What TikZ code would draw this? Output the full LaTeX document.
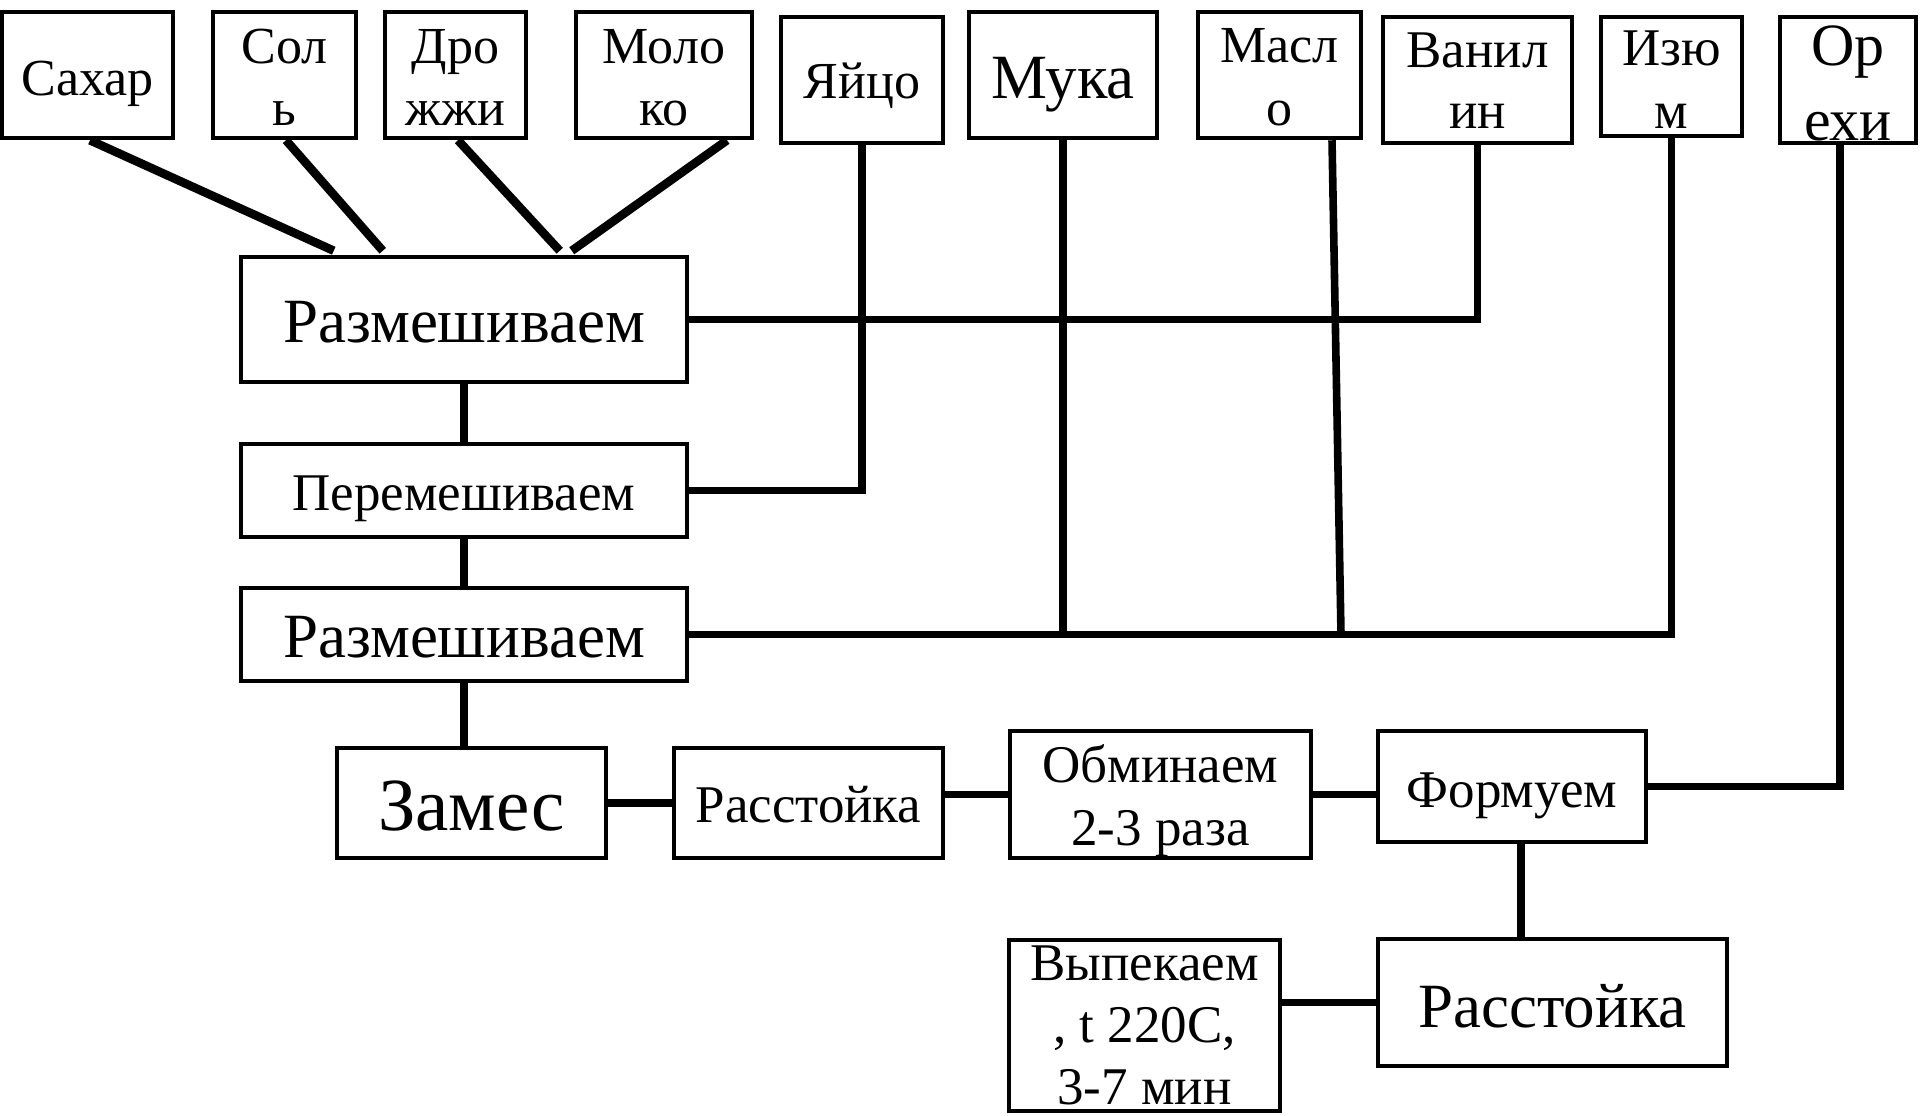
\documentclass[tikz,border=0pt]{standalone}
\usepackage{fontspec}
\setmainfont{Liberation Serif}
\usetikzlibrary{calc}
\newcommand{\tx}[4]{\raisebox{#1}[0pt][0pt]{\fontsize{#2}{#3}\selectfont\begin{tabular}[t]{@{}c@{}}#4\end{tabular}}}
\tikzset{
  box/.style={draw=black, line width=2.25pt, rectangle, inner sep=0pt, fill=white},
  conn/.style={draw=black, line width=3.8pt},
  diag/.style={draw=black, line width=4.3pt},
}
\begin{document}
\begin{tikzpicture}[x=0.5pt,y=-0.5pt]
\useasboundingbox (0,0) rectangle (1920,1115);
% top ingredient boxes
\node[box, minimum width=85.5pt, minimum height=63pt] (sugar) at (87.5,75) {\tx{-10pt}{26pt}{31pt}{Сахар}};
\node[box, minimum width=71.5pt, minimum height=63pt] (salt) at (284.5,75) {\tx{6pt}{26pt}{31pt}{Сол\\ь}};
\node[box, minimum width=70.5pt, minimum height=63pt] (yeast) at (455.5,75) {\tx{6pt}{26pt}{31pt}{Дро\\жжи}};
\node[box, minimum width=88pt, minimum height=63pt] (milk) at (664,75) {\tx{6pt}{26pt}{31pt}{Моло\\ко}};
\node[box, minimum width=81pt, minimum height=63pt] (egg) at (862,80) {\tx{-9pt}{26pt}{31pt}{Яйцо}};
\node[box, minimum width=94pt, minimum height=63pt] (flour) at (1063,75) {\tx{-11.5pt}{31.5pt}{36pt}{Мука}};
\node[box, minimum width=81.5pt, minimum height=63pt] (butter) at (1279.5,75) {\tx{6.5pt}{26pt}{31.5pt}{Масл\\о}};
\node[box, minimum width=94.5pt, minimum height=63pt] (vanilla) at (1477.5,80) {\tx{6.5pt}{26.5pt}{30.5pt}{Ванил\\ин}};
\node[box, minimum width=70.5pt, minimum height=59.5pt] (raisin) at (1671.5,76.5) {\tx{5.75pt}{26.5pt}{31.5pt}{Изю\\м}};
\node[box, minimum width=68pt, minimum height=63pt] (nuts) at (1848,80) {\tx{7.5pt}{30pt}{37.5pt}{Ор\\ехи}};
% process boxes
\node[box, minimum width=223pt, minimum height=62.5pt] (mix1) at (464,319.5) {\tx{-11.25pt}{31.5pt}{36pt}{Размешиваем}};
\node[box, minimum width=223pt, minimum height=46.5pt] (mix2) at (464,490.5) {\tx{-9.75pt}{26.5pt}{31pt}{Перемешиваем}};
\node[box, minimum width=223pt, minimum height=46.5pt] (mix3) at (464,634.5) {\tx{-11.25pt}{31.5pt}{36pt}{Размешиваем}};
\node[box, minimum width=134.5pt, minimum height=55pt] (knead) at (471.5,803) {\tx{-13.5pt}{37.5pt}{43pt}{Замес}};
\node[box, minimum width=134.5pt, minimum height=55pt] (proof1) at (808.5,803) {\tx{-9.5pt}{26.5pt}{31pt}{Расстойка}};
\node[box, minimum width=150.5pt, minimum height=63.5pt] (punch) at (1160.5,794.5) {\tx{6.25pt}{26.5pt}{31.5pt}{Обминаем\\2-3 раза}};
\node[box, minimum width=134pt, minimum height=55.5pt] (shape) at (1512,786.5) {\tx{-10.25pt}{26.5pt}{31pt}{Формуем}};
\node[box, minimum width=174.5pt, minimum height=63.5pt] (proof2) at (1552.5,1002.5) {\tx{-12.25pt}{31.5pt}{36pt}{Расстойка}};
\node[box, minimum width=135.5pt, minimum height=85.5pt] (bake) at (1144.5,1025.5) {\tx{22.5pt}{26.5pt}{31pt}{Выпекаем\\, t 220C,\\3-7 мин}};
% connectors: top diagonals
\draw[diag] ($(sugar.south)+(2.5,0)$) -- ($(mix1.north west)+(95,-4)$);
\draw[diag] ($(salt.south)+(1.5,0)$) -- ($(mix1.north west)+(144,-4)$);
\draw[diag] ($(yeast.south)+(2.5,0)$) -- ($(mix1.north west)+(321,-4)$);
\draw[diag] ($(milk.south)+(63,0)$) -- ($(mix1.north west)+(333,-4)$);
% verticals from right ingredients
\draw[conn] (egg.south) |- (mix2.east);
\draw[conn] (vanilla.south) |- (mix1.east);
\draw[conn] (flour.south) -- (flour.south |- mix3.east);
\coordinate (bj) at (1341,634.5);
\draw[conn] ($(butter.south)+(52.5,0)$) -- (bj);
\draw[conn] (raisin.south) |- (mix3.east);
\draw[conn] ($(nuts.south)+(-8,0)$) |- (shape.east);
% process chain
\draw[conn] (mix1) -- (mix2);
\draw[conn] (mix2) -- (mix3);
\draw[conn] (mix3.south) -- (mix3.south |- knead.north);
\draw[conn] (knead) -- (proof1);
\draw[conn] (proof1.east |- punch.west) -- (punch.west);
\draw[conn] (punch.east) -- (punch.east -| shape.west);
\draw[conn] ($(shape.south)+(9,0)$) coordinate (sp) -- (sp |- proof2.north);
\draw[conn] (bake.east |- proof2.west) -- (proof2.west);
\end{tikzpicture}
\end{document}
